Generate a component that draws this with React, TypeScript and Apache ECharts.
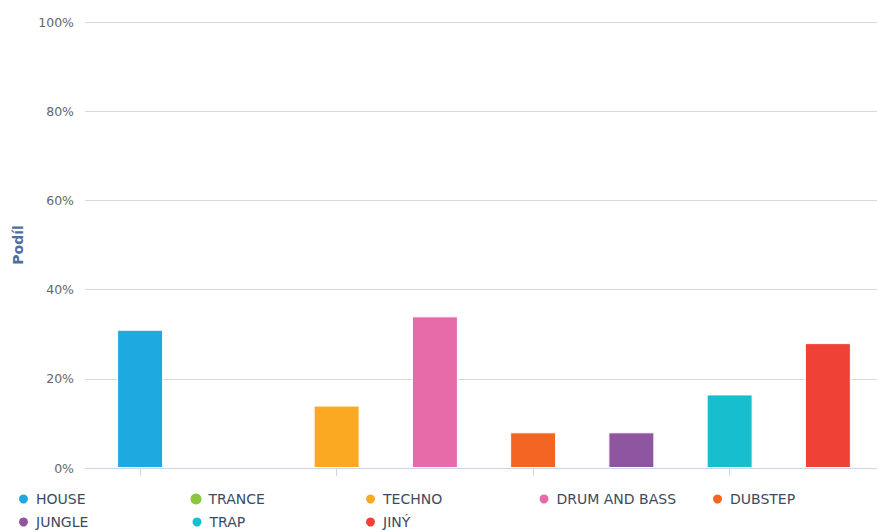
import React, { useEffect, useRef } from "react";
import * as echarts from "echarts";

const categories = ["HOUSE", "TRANCE", "TECHNO", "DRUM AND BASS", "DUBSTEP", "JUNGLE", "TRAP", "JINÝ"];
const values = [31, 0, 14, 34, 8, 8, 16.5, 28];
const colors = ["#1ea9e1", "#8cc63f", "#fba823", "#e76aa9", "#f26522", "#8e55a0", "#17bece", "#ef4136"];
const yTicks = [0, 20, 40, 60, 80, 100];

export default function App() {
  const ref = useRef<HTMLDivElement>(null);
  useEffect(() => {
    if (!ref.current) return;
    const chart = echarts.init(ref.current, null, { renderer: "svg" });
    const font = "DejaVu Sans";
    const series = categories.map((name, i) => ({
      name,
      type: "bar",
      xAxisIndex: 1,
      yAxisIndex: 1,
      stack: "all",
      barWidth: 46,
      itemStyle: { color: colors[i], borderColor: "#ffffff", borderWidth: values[i] > 0 ? 1 : 0 },
      data: categories.map((_, j) => (j === i ? values[i] : null)),
    }));
    const legends = categories.map((name, i) => ({
      data: [name],
      left: 17 + (i % 5) * 173.5,
      top: 492 + Math.floor(i / 5) * 23,
      icon: "circle",
      itemWidth: 11,
      itemHeight: 11,
      itemGap: 0,
      padding: 0,
      selectedMode: false,
      textStyle: { color: "#3b4b62", fontSize: 14, fontFamily: font, padding: [2, 0, 0, 2] },
    }));
    chart.setOption({
      animation: false,
      backgroundColor: "#ffffff",
      grid: [
        { left: 85, right: 0, top: 22, bottom: 64 },
        { left: 91, right: -2, top: 22, bottom: 64 },
      ],
      legend: legends,
      xAxis: [
        {
          type: "category",
          gridIndex: 0,
          data: categories,
          axisLine: { show: true, lineStyle: { color: "#ccd6eb", width: 1 } },
          axisTick: { show: false },
          axisLabel: { show: false },
        },
        {
          type: "category",
          gridIndex: 1,
          data: categories,
          axisLine: { show: false },
          axisTick: { show: true, alignWithLabel: true, length: 8, lineStyle: { color: "#ccd6eb" } },
          axisLabel: { show: false },
        },
      ],
      yAxis: [
        {
          type: "value",
          gridIndex: 0,
          min: 0,
          max: 100,
          interval: 20,
          name: "Podíl",
          nameLocation: "middle",
          nameGap: 60,
          nameTextStyle: { color: "#4d6f9e", fontWeight: "bold", fontSize: 14, fontFamily: font },
          axisLine: { show: false },
          axisTick: { show: false },
          axisLabel: {
            formatter: (v: number) => (yTicks.includes(v) ? v + "%" : ""),
            color: "#666666",
            fontSize: 12.5,
            fontFamily: font,
            margin: 11,
          },
          splitLine: { show: true, lineStyle: { color: "#d8d8d8", width: 1 } },
        },
        {
          type: "value",
          gridIndex: 1,
          min: 0,
          max: 100,
          interval: 20,
          show: false,
          splitLine: { show: false },
        },
      ],
      series,
    });
    return () => chart.dispose();
  }, []);
  return (
    <div
      ref={ref}
      style={{ position: "fixed", left: 0, top: 0, width: 877, height: 532 }}
    />
  );
}
